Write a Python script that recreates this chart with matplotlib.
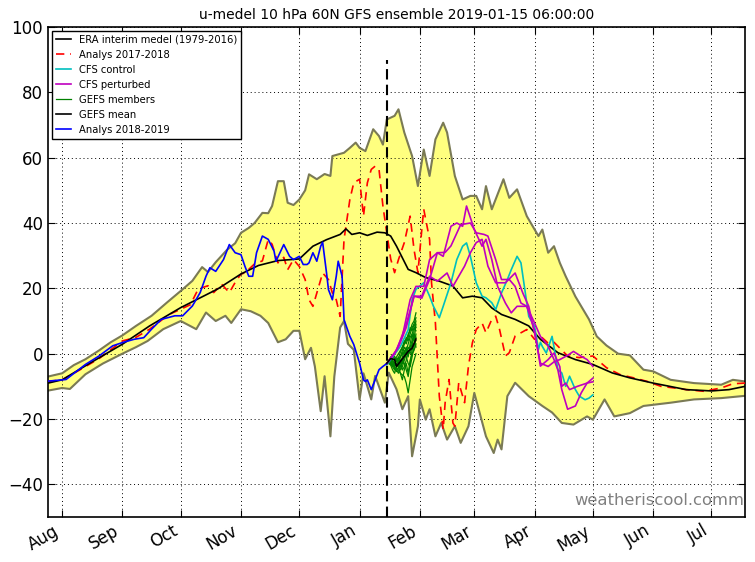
import matplotlib
matplotlib.use("Agg")
import matplotlib.pyplot as plt
import matplotlib.dates as mdates
import pandas as pd

# ---------------- data ----------------
env_dates = ["2018-07-24 18:00", "2018-08-01", "2018-08-07", "2018-08-13", "2018-08-20", "2018-08-26",
             "2018-09-01", "2018-09-08", "2018-09-16", "2018-09-24", "2018-10-01", "2018-10-07",
             "2018-10-12", "2018-10-15", "2018-10-19", "2018-10-25", "2018-10-29", "2018-11-01",
             "2018-11-05", "2018-11-08", "2018-11-12", "2018-11-15", "2018-11-17", "2018-11-20",
             "2018-11-23", "2018-11-25", "2018-11-28", "2018-12-01", "2018-12-04", "2018-12-06",
             "2018-12-10", "2018-12-14", "2018-12-17", "2018-12-18", "2018-12-21", "2018-12-24",
             "2018-12-27", "2018-12-30", "2019-01-01", "2019-01-04", "2019-01-08", "2019-01-11",
             "2019-01-13", "2019-01-15", "2019-01-19", "2019-01-21", "2019-01-24", "2019-01-28",
             "2019-01-31", "2019-02-03", "2019-02-06", "2019-02-09", "2019-02-13", "2019-02-15",
             "2019-02-19", "2019-02-23", "2019-02-27", "2019-03-02", "2019-03-05", "2019-03-07",
             "2019-03-10", "2019-03-16", "2019-03-19", "2019-03-23", "2019-03-28", "2019-04-03",
             "2019-04-05", "2019-04-08", "2019-04-11", "2019-04-14", "2019-04-17", "2019-04-22",
             "2019-04-29", "2019-05-03", "2019-05-08", "2019-05-14", "2019-05-20", "2019-05-27",
             "2019-06-01", "2019-06-10", "2019-06-22", "2019-07-06", "2019-07-12", "2019-07-18 06:00"]
env_upper = [-7.0, -6.0, -3.5, -1.7, 1.0, 3.5,
             5.6, 8.5, 11.6, 15.7, 19.2, 22.3,
             26.5, 25.0, 28.0, 31.9, 33.8, 37.0,
             38.5, 40.0, 43.1, 43.0, 45.2, 52.8,
             52.8, 46.2, 45.5, 47.2, 50.0, 54.9,
             53.4, 55.0, 54.4, 60.5, 61.0, 61.5,
             63.0, 64.6, 63.0, 62.0, 68.7, 66.6,
             64.0, 71.7, 72.8, 74.8, 67.7, 60.5,
             51.3, 62.5, 54.4, 65.6, 70.7, 67.7,
             54.4, 47.2, 48.3, 48.3, 44.2, 51.3,
             44.2, 53.4, 47.7, 50.3, 42.1, 36.0,
             38.0, 30.9, 32.9, 27.8, 23.7, 17.5,
             10.5, 5.3, 2.5, 0.0, -0.5, -4.9,
             -5.4, -8.0, -9.0, -9.5, -8.0, -8.5]

low_dates = ["2018-07-24 18:00", "2018-08-01", "2018-08-05", "2018-08-13", "2018-08-22", "2018-09-01",
             "2018-09-08", "2018-09-14", "2018-09-22", "2018-10-01", "2018-10-09", "2018-10-14",
             "2018-10-19", "2018-10-24", "2018-10-27", "2018-11-01", "2018-11-06", "2018-11-11",
             "2018-11-15", "2018-11-20", "2018-11-24", "2018-11-28", "2018-12-01", "2018-12-04",
             "2018-12-07", "2018-12-09", "2018-12-12", "2018-12-14", "2018-12-17", "2018-12-19",
             "2018-12-22", "2018-12-24", "2018-12-26", "2018-12-29", "2019-01-01", "2019-01-03",
             "2019-01-07", "2019-01-09", "2019-01-14", "2019-01-16", "2019-01-20", "2019-01-23",
             "2019-01-26", "2019-01-28", "2019-01-31", "2019-02-01", "2019-02-04", "2019-02-06",
             "2019-02-09", "2019-02-12", "2019-02-15", "2019-02-19", "2019-02-22", "2019-02-26",
             "2019-03-01", "2019-03-07", "2019-03-11", "2019-03-13", "2019-03-15", "2019-03-18",
             "2019-03-22", "2019-03-29", "2019-04-05", "2019-04-10", "2019-04-15", "2019-04-21",
             "2019-04-28", "2019-05-01", "2019-05-07", "2019-05-12", "2019-05-20", "2019-05-27",
             "2019-06-10", "2019-06-22", "2019-07-06", "2019-07-18 06:00"]
env_lower = [-11.3, -10.5, -10.8, -6.3, -3.0, 0.0,
             2.0, 3.9, 7.5, 10.0, 7.5, 12.6,
             10.0, 11.6, 9.4, 13.6, 13.0, 11.6,
             9.4, 3.5, 4.4, 7.0, 7.0, -1.7,
             1.8, -3.9, -17.6, -6.9, -25.3, -7.0,
             8.0, 10.0, 3.0, 1.2, -14.0, -6.0,
             -14.0, -6.8, -15.0, -5.8, -10.9, -17.0,
             -13.0, -31.4, -22.2, -14.0, -20.2, -17.0,
             -25.3, -21.2, -26.3, -22.2, -27.3, -22.2,
             -12.0, -25.3, -30.4, -26.3, -29.3, -13.0,
             -8.9, -13.0, -16.0, -18.0, -21.2, -21.7,
             -19.2, -20.2, -14.0, -19.2, -18.2, -16.0,
             -15.0, -14.0, -13.6, -12.9]

era_dates = ["2018-07-24 18:00", "2018-08-01", "2018-08-15", "2018-09-01", "2018-09-15", "2018-10-01",
             "2018-10-20", "2018-11-01", "2018-11-10", "2018-11-20", "2018-12-01", "2018-12-08",
             "2018-12-15", "2018-12-22", "2018-12-25", "2018-12-28", "2019-01-01", "2019-01-05",
             "2019-01-10", "2019-01-14", "2019-01-17", "2019-01-20", "2019-01-26", "2019-01-30",
             "2019-02-04", "2019-02-11", "2019-02-18", "2019-02-23", "2019-02-28", "2019-03-05",
             "2019-03-10", "2019-03-15", "2019-03-22", "2019-03-29", "2019-04-04", "2019-04-13",
             "2019-04-22", "2019-05-01", "2019-05-11", "2019-05-20", "2019-06-01", "2019-06-18",
             "2019-07-01", "2019-07-10", "2019-07-18 06:00"]
era_mean = [-9.0, -8.0, -3.0, 2.9, 8.5, 14.1,
            19.8, 24.4, 27.0, 28.5, 29.0, 32.9,
            34.9, 36.5, 38.2, 36.5, 37.0, 36.2,
            37.2, 37.0, 36.0, 32.9, 25.8, 24.8,
            23.3, 22.2, 20.7, 17.1, 17.6, 17.1,
            14.0, 12.0, 10.5, 8.5, 4.4, 0.3,
            -1.8, -3.3, -5.9, -7.4, -9.0, -11.0,
            -11.4, -11.0, -10.0]

a1718_dates = ["2018-07-24 18:00", "2018-08-01", "2018-08-10", "2018-08-20", "2018-09-01", "2018-09-08",
               "2018-09-15", "2018-09-25", "2018-10-01", "2018-10-06", "2018-10-10", "2018-10-15",
               "2018-10-18", "2018-10-22", "2018-10-26", "2018-10-29", "2018-11-01", "2018-11-03",
               "2018-11-08", "2018-11-12", "2018-11-15", "2018-11-17", "2018-11-20", "2018-11-23",
               "2018-11-25", "2018-11-28", "2018-12-01", "2018-12-04", "2018-12-06", "2018-12-08",
               "2018-12-11", "2018-12-13", "2018-12-16", "2018-12-18", "2018-12-20", "2018-12-22",
               "2018-12-24", "2018-12-27", "2018-12-29", "2019-01-01", "2019-01-03", "2019-01-05",
               "2019-01-07", "2019-01-09", "2019-01-11", "2019-01-13", "2019-01-15", "2019-01-17",
               "2019-01-19", "2019-01-21", "2019-01-24", "2019-01-27", "2019-01-29", "2019-01-31",
               "2019-02-02", "2019-02-03", "2019-02-06", "2019-02-07", "2019-02-09", "2019-02-11",
               "2019-02-13", "2019-02-14", "2019-02-16", "2019-02-18", "2019-02-19", "2019-02-21",
               "2019-02-24", "2019-02-26", "2019-02-28", "2019-03-02", "2019-03-05", "2019-03-07",
               "2019-03-10", "2019-03-12", "2019-03-14", "2019-03-17", "2019-03-19", "2019-03-22",
               "2019-03-25", "2019-03-28", "2019-04-01", "2019-04-04", "2019-04-08", "2019-04-11",
               "2019-04-18", "2019-04-24", "2019-05-01", "2019-05-08", "2019-05-15", "2019-05-22",
               "2019-05-29", "2019-06-05", "2019-06-12", "2019-06-18", "2019-06-27", "2019-07-06",
               "2019-07-12", "2019-07-18 06:00"]
a1718 = [-8.5, -8.0, -5.0, -1.5, 3.9, 5.0,
         7.5, 12.0, 13.6, 15.0, 19.8, 20.8,
         18.7, 21.3, 18.7, 21.8, 24.4, 24.7,
         27.5, 28.4, 34.9, 33.5, 27.8, 29.5,
         25.7, 28.8, 26.7, 22.7, 16.5, 14.5,
         20.6, 24.7, 22.7, 18.6, 16.5, 11.4,
         35.0, 47.2, 52.3, 53.4, 42.1, 52.3,
         56.4, 57.4, 56.4, 45.2, 37.0, 29.0,
         24.8, 28.8, 34.0, 42.1, 31.9, 24.8,
         38.0, 44.2, 35.0, 21.7, 9.4, -13.0,
         -23.2, -15.0, -7.9, -21.2, -22.2, -8.9,
         -15.0, -3.8, 3.3, 7.4, 9.4, 6.4,
         10.5, 11.5, 7.4, -0.7, 0.3, 5.4,
         6.4, 7.4, 4.4, 5.4, 3.2, 3.5,
         -0.7, -1.2, -0.7, -4.3, -6.4, -7.4,
         -8.5, -10.0, -10.5, -11.0, -11.5, -10.5,
         -9.2, -9.0]

a1819_dates = ["2018-07-24 18:00", "2018-08-03", "2018-08-13", "2018-08-20", "2018-08-27", "2018-09-01",
               "2018-09-07", "2018-09-12", "2018-09-16", "2018-09-21", "2018-09-28", "2018-10-02",
               "2018-10-07", "2018-10-11", "2018-10-14", "2018-10-16", "2018-10-19", "2018-10-23",
               "2018-10-26", "2018-10-29", "2018-11-01", "2018-11-03", "2018-11-05", "2018-11-07",
               "2018-11-09", "2018-11-12", "2018-11-15", "2018-11-18", "2018-11-19", "2018-11-23",
               "2018-11-26", "2018-11-28", "2018-12-01", "2018-12-03", "2018-12-05", "2018-12-06",
               "2018-12-08", "2018-12-10", "2018-12-12", "2018-12-13", "2018-12-15", "2018-12-16",
               "2018-12-18", "2018-12-20", "2018-12-21", "2018-12-23", "2018-12-24", "2018-12-27",
               "2018-12-29", "2019-01-01", "2019-01-03", "2019-01-04", "2019-01-05", "2019-01-07",
               "2019-01-09", "2019-01-11", "2019-01-13", "2019-01-15"]
a1819 = [-8.4, -7.9, -3.3, -0.7, 2.4, 3.4,
         4.4, 4.9, 7.5, 10.5, 11.6, 11.6,
         14.6, 18.7, 23.7, 26.3, 25.2, 28.8,
         33.4, 30.9, 30.3, 26.8, 23.7, 23.7,
         30.9, 36.0, 35.0, 31.4, 28.3, 33.4,
         29.8, 28.8, 29.8, 27.3, 27.3, 27.8,
         30.9, 28.3, 32.9, 34.1, 24.7, 19.6,
         16.5, 23.7, 28.3, 23.7, 10.4, 5.3,
         2.8, -2.9, -8.0, -8.5, -8.0, -11.0,
         -8.0, -4.9, -3.9, -3.0]

gefs_dates = pd.date_range("2019-01-15", "2019-01-30", freq="D")
gefs_members = [
    [-3, -2.5, -2, -1.5, -2, -1, 0, 1, 2, 3, 4, 6, 7, 9, 10, 12.5],
    [-3, -2.6, -3, -3.5, -4, -4.5, -5, -6, -6.5, -7, -9, -12, -8, -4, -2, 0],
    [-3, -2.4, -1.5, -2.5, -3.5, -2, -1, -2, -3, -1, 1, 3, 5, 6, 8, 7],
    [-3, -2, -1.5, -2, -3, -4, -3, -1, 0, 2, 1, 0, 2, 4, 6, 5],
    [-3, -2.8, -3.2, -4, -5, -4, -2, -1, 1, 3, 5, 4, 6, 8, 9, 8],
    [-3, -2.5, -2.2, -3, -4.5, -5, -6, -4, -2, -3, -5, -7, -3, 1, 3, 4],
    [-3, -2.2, -1, -0.5, -1.5, -2.5, -1.5, 0.5, 2, 4, 3, 5, 8, 7, 9, 11],
    [-3, -3, -3.5, -5, -6, -4, -3, -5, -4, -2, 0, 2, 1, 3, 5, 2],
    [-3, -2.7, -2.4, -3.6, -2.8, -1.5, -2.5, -4, -3, 0, 2, -1, 3, 6, 4, 9],
    [-3, -2.3, -2.8, -2, -3.8, -3, -4, -2.5, -5, -4, -2, 1, 0, 2, 7, 10],
    [-3, -2.9, -2.1, -1.2, -0.8, -2, -3.5, -3, -1, 1, -1, -3, -4, -1, 2, 6],
    [-3, -2.6, -3.4, -2.8, -4.2, -5.5, -4, -6, -8, -5, -3, -6, -2, 0, 1, 3],
]
gefs_mean_dates = ["2019-01-15", "2019-01-17", "2019-01-19", "2019-01-20", "2019-01-24",
                   "2019-01-26", "2019-01-28", "2019-01-30"]
gefs_mean = [-2.9, -1.5, -1.8, -3.9, -0.8, 0.7, 1.7, 4.5]

cfs_ctrl_dates = ["2019-01-15", "2019-01-22", "2019-01-26", "2019-01-28", "2019-01-30", "2019-02-02",
                  "2019-02-03", "2019-02-06", "2019-02-08", "2019-02-11", "2019-02-13", "2019-02-17",
                  "2019-02-20", "2019-02-23", "2019-02-25", "2019-02-27", "2019-03-02", "2019-03-05",
                  "2019-03-07", "2019-03-10", "2019-03-12", "2019-03-15", "2019-03-18", "2019-03-20",
                  "2019-03-23", "2019-03-25", "2019-03-27", "2019-03-29", "2019-04-01", "2019-04-03",
                  "2019-04-04", "2019-04-05", "2019-04-07", "2019-04-10", "2019-04-11", "2019-04-13",
                  "2019-04-15", "2019-04-17", "2019-04-19", "2019-04-22", "2019-04-24", "2019-04-27",
                  "2019-04-29", "2019-05-01"]
cfs_ctrl = [-3.4, 2.2, 7.3, 16.5, 19.7, 21.2,
            21.7, 17.6, 14.5, 11.0, 14.5, 21.7,
            28.8, 32.9, 33.9, 29.8, 21.7, 17.6,
            17.1, 15.6, 13.5, 18.6, 22.7, 25.7,
            29.8, 27.8, 19.6, 11.4, 8.4, 1.3,
            3.5, 2.2, 0.2, 5.3, 2.0, -4.9,
            -5.9, -10.0, -6.9, -11.0, -13.0, -14.1,
            -13.6, -12.6]

cfs_p1_dates = ["2019-01-15", "2019-01-19", "2019-01-23", "2019-01-27", "2019-01-30", "2019-02-03",
                "2019-02-06", "2019-02-10", "2019-02-13", "2019-02-17", "2019-02-20", "2019-02-23",
                "2019-02-25", "2019-03-01", "2019-03-05", "2019-03-07", "2019-03-10", "2019-03-13",
                "2019-03-17", "2019-03-20", "2019-03-23", "2019-03-28", "2019-04-01", "2019-04-04",
                "2019-04-08", "2019-04-11", "2019-04-13", "2019-04-15", "2019-04-18", "2019-04-22",
                "2019-04-25", "2019-04-28", "2019-05-01"]
cfs_p1 = [-3.0, 0.0, 5.3, 16.5, 20.6, 20.6,
          28.8, 30.9, 29.8, 39.0, 40.0, 39.0,
          45.2, 38.0, 32.9, 35.0, 28.8, 20.6,
          15.5, 12.5, 14.5, 14.5, 9.4, 5.3,
          2.3, -1.8, -5.0, -11.0, -17.0, -16.0,
          -12.0, -9.0, -7.5]

cfs_p2_dates = ["2019-01-15", "2019-01-20", "2019-01-25", "2019-01-29", "2019-02-02", "2019-02-06",
                "2019-02-10", "2019-02-14", "2019-02-17", "2019-02-22", "2019-02-27", "2019-03-02",
                "2019-03-06", "2019-03-08", "2019-03-12", "2019-03-15", "2019-03-19", "2019-03-22",
                "2019-03-25", "2019-03-28", "2019-04-01", "2019-04-04", "2019-04-08", "2019-04-11",
                "2019-04-14", "2019-04-15", "2019-04-17", "2019-04-19", "2019-04-23", "2019-04-28",
                "2019-05-01"]
cfs_p2 = [-3.0, 1.0, 9.0, 17.6, 17.0, 22.7,
          30.9, 31.0, 33.0, 39.5, 40.0, 37.0,
          36.5, 36.0, 28.8, 22.7, 22.7, 20.6,
          15.5, 14.5, 7.0, -3.8, -1.8, 0.2,
          -4.0, -10.0, -9.0, -11.0, -10.0, -9.0,
          -8.6]

cfs_p3_dates = ["2019-01-15", "2019-01-21", "2019-01-25", "2019-01-29", "2019-02-02", "2019-02-06",
                "2019-02-10", "2019-02-15", "2019-02-18", "2019-02-24", "2019-02-27", "2019-03-02",
                "2019-03-05", "2019-03-08", "2019-03-12", "2019-03-17", "2019-03-22", "2019-03-26",
                "2019-03-29", "2019-04-01", "2019-04-04", "2019-04-08", "2019-04-11", "2019-04-14",
                "2019-04-18", "2019-04-21", "2019-04-25", "2019-04-28", "2019-05-01"]
cfs_p3 = [-3.0, 2.0, 8.0, 17.6, 17.6, 23.7,
          22.2, 24.7, 20.6, 26.8, 30.9, 34.0,
          35.0, 26.8, 21.7, 21.7, 24.7, 18.5,
          14.5, 6.3, -2.9, -3.9, -2.5, -1.8,
          -0.5, 0.7, -0.8, -1.8, -3.9]

run_date = "2019-01-15"
month_ticks = pd.date_range("2018-08-01", "2019-07-01", freq="MS")


# ---------------- plot ----------------
def D(x):
    return pd.to_datetime(x, format="ISO8601")


fig = plt.figure(figsize=(7.55, 5.62), dpi=100, facecolor="white")
ax = fig.add_axes([0.0636, 0.080, 0.9232, 0.872])

ud = D(env_dates)
ld = D(low_dates)
poly_x = list(mdates.date2num(ud)) + list(mdates.date2num(ld)[::-1])
poly_y = list(env_upper) + list(env_lower[::-1])
ax.fill(poly_x, poly_y, facecolor="yellow", alpha=0.5, edgecolor="none", zorder=1)
ax.plot(ud, env_upper, color="#7a7a55", lw=1.5, zorder=2)
ax.plot(ld, env_lower, color="#7a7a55", lw=1.5, zorder=2)

ax.plot(D(era_dates), era_mean, color="black", lw=1.2, zorder=5,
        label="ERA interim medel (1979-2016)")
ax.plot(D(a1718_dates), a1718, color="red", lw=1.2, dashes=(5, 3.5), zorder=4,
        label="Analys 2017-2018")
ax.plot(D(cfs_ctrl_dates), cfs_ctrl, color=(0, 0.75, 0.75), lw=1.2, zorder=6,
        label="CFS control")
ax.plot(D(cfs_p1_dates), cfs_p1, color=(0.75, 0, 0.75), lw=1.2, zorder=6,
        label="CFS perturbed")
ax.plot(D(cfs_p2_dates), cfs_p2, color=(0.75, 0, 0.75), lw=1.2, zorder=6)
ax.plot(D(cfs_p3_dates), cfs_p3, color=(0.75, 0, 0.75), lw=1.2, zorder=6)
for i, m in enumerate(gefs_members):
    ax.plot(gefs_dates, m, color="green", lw=0.9, zorder=5.5,
            label="GEFS members" if i == 0 else None)
ax.plot(D(gefs_mean_dates), gefs_mean, color="black", lw=1.2, zorder=8,
        label="GEFS mean")
ax.plot(D(a1819_dates), a1819, color="blue", lw=1.2, zorder=6,
        label="Analys 2018-2019")

ax.plot([D(run_date), D(run_date)], [-50, 90], color="black", lw=1.5,
        dashes=(5, 2.5), zorder=9)

ax.set_xlim(D(env_dates[0]), D(env_dates[-1]))
ax.set_ylim(-50, 100)
ax.set_yticks([-40, -20, 0, 20, 40, 60, 80, 100])
ax.set_xticks(month_ticks)
ax.xaxis.set_major_formatter(mdates.DateFormatter("%b"))
for lab in ax.get_xticklabels():
    lab.set_rotation(30)
    lab.set_ha("right")
ax.tick_params(direction="in", top=True, right=True, length=5, labelsize=12)
ax.grid(True, color="black", linestyle=(0, (1, 3)), lw=0.7)
for s in ax.spines.values():
    s.set_linewidth(1.2)

ax.set_title("u-medel 10 hPa 60N GFS ensemble 2019-01-15 06:00:00", fontsize=10)

leg = ax.legend(loc="upper left", fontsize=7.2, handlelength=1.5, fancybox=False,
                framealpha=1, edgecolor="black", borderaxespad=0.4)
leg.get_frame().set_linewidth(1.0)

ax.text(0.999, 0.025, "weatheriscool.comm", transform=ax.transAxes, ha="right",
        va="baseline", fontsize=11.8, color="#808080", zorder=10)

fig.savefig("out.png", dpi=100, facecolor="white")
